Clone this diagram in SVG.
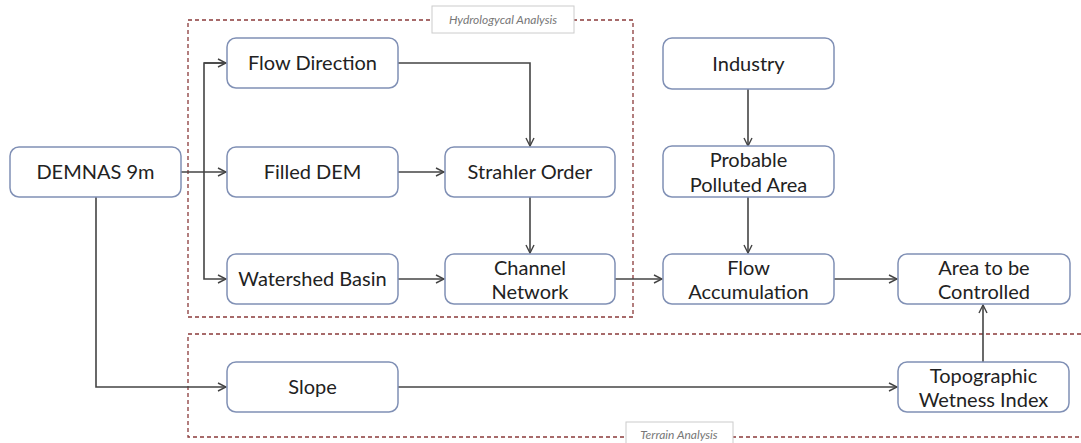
<svg xmlns="http://www.w3.org/2000/svg" width="1081" height="443" viewBox="0 0 1081 443">
<defs>
<marker id="arr" viewBox="0 0 10 10" refX="9" refY="5" markerWidth="10" markerHeight="10" markerUnits="userSpaceOnUse" orient="auto">
<path d="M1,1 L9,5 L1,9" fill="none" stroke="#444" stroke-width="1.4"/>
</marker>
<style>
.node{fill:#fff;stroke:#8090b5;stroke-width:1.5}
.t{font-family:Lato,"Open Sans",sans-serif;font-size:20px;fill:#222;text-anchor:middle}
.c{fill:none;stroke:#444;stroke-width:1.6}
.grp{fill:none;stroke:#8a3a3a;stroke-width:1.3;stroke-dasharray:4,3}
.lbl{fill:#fff;stroke:#ccc;stroke-width:1}
.lt{font-family:Lato,"Open Sans",sans-serif;font-size:12px;font-style:italic;fill:#777;text-anchor:middle}
</style>
</defs>
<rect width="1081" height="443" fill="#fff"/>
<g id="groups">
<rect class="grp" x="188" y="20" width="445" height="297"/>
<path class="grp" d="M1081,334 H188 V437 H1081"/>
<rect class="lbl" x="432" y="6" width="142" height="27"/>
<text class="lt" x="503" y="24">Hydrologycal Analysis</text>
<rect class="lbl" x="626" y="422" width="107" height="24"/>
<text class="lt" x="679" y="439">Terrain Analysis</text>
</g>
<g id="connectors">
<path class="c" d="M181,172 H226" marker-end="url(#arr)"/>
<path class="c" d="M226,63 H204 V279 H226" marker-end="url(#arr)"/>
<path class="c" d="M204,63 H226" marker-end="url(#arr)"/>
<path class="c" d="M96,197 V387 H226" marker-end="url(#arr)"/>
<path class="c" d="M398,63 H530 V146" marker-end="url(#arr)"/>
<path class="c" d="M398,172 H444" marker-end="url(#arr)"/>
<path class="c" d="M530,197 V253" marker-end="url(#arr)"/>
<path class="c" d="M398,279 H444" marker-end="url(#arr)"/>
<path class="c" d="M615,279 H662" marker-end="url(#arr)"/>
<path class="c" d="M748,89 V146" marker-end="url(#arr)"/>
<path class="c" d="M748,197 V253" marker-end="url(#arr)"/>
<path class="c" d="M834,279 H897" marker-end="url(#arr)"/>
<path class="c" d="M398,387 H897" marker-end="url(#arr)"/>
<path class="c" d="M983,362 V305" marker-end="url(#arr)"/>
</g>
<g id="demnas"><rect class="node" x="10" y="147" width="171" height="50" rx="9"/><text class="t" x="95.5" y="179">DEMNAS 9m</text></g>
<g id="flowdir"><rect class="node" x="227" y="38" width="171" height="50" rx="9"/><text class="t" x="312.5" y="70">Flow Direction</text></g>
<g id="filled"><rect class="node" x="227" y="147" width="171" height="50" rx="9"/><text class="t" x="312.5" y="179">Filled DEM</text></g>
<g id="watershed"><rect class="node" x="227" y="254" width="171" height="50" rx="9"/><text class="t" x="312.5" y="286">Watershed Basin</text></g>
<g id="strahler"><rect class="node" x="445" y="147" width="170" height="50" rx="9"/><text class="t" x="530" y="179">Strahler Order</text></g>
<g id="channel"><rect class="node" x="445" y="254" width="170" height="50" rx="9"/><text class="t" x="530" y="275">Channel</text><text class="t" x="530" y="299">Network</text></g>
<g id="industry"><rect class="node" x="663" y="38" width="171" height="51" rx="9"/><text class="t" x="748.5" y="71">Industry</text></g>
<g id="polluted"><rect class="node" x="663" y="146" width="171" height="51" rx="9"/><text class="t" x="748.5" y="167">Probable</text><text class="t" x="748.5" y="192">Polluted Area</text></g>
<g id="flowacc"><rect class="node" x="663" y="254" width="171" height="50" rx="9"/><text class="t" x="748.5" y="275">Flow</text><text class="t" x="748.5" y="299">Accumulation</text></g>
<g id="area"><rect class="node" x="898" y="254" width="172" height="50" rx="9"/><text class="t" x="984" y="275">Area to be</text><text class="t" x="984" y="299">Controlled</text></g>
<g id="slope"><rect class="node" x="227" y="362" width="171" height="50" rx="9"/><text class="t" x="312.5" y="394">Slope</text></g>
<g id="twi"><rect class="node" x="898" y="362" width="171" height="50" rx="9"/><text class="t" x="983.5" y="383">Topographic</text><text class="t" x="983.5" y="407">Wetness Index</text></g>
</svg>
